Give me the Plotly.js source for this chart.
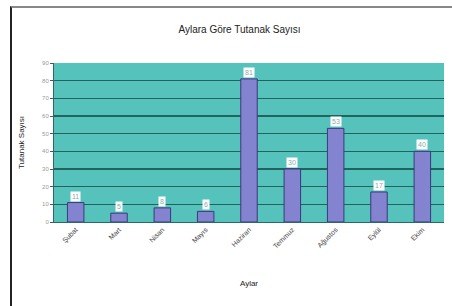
<!DOCTYPE html>
<html>
<head>
<meta charset="utf-8">
<script src="https://cdn.plot.ly/plotly-3.0.1.min.js"></script>
<style>
  html, body { margin: 0; padding: 0; background: #ffffff; }
  #wrap { position: relative; width: 452px; height: 306px; overflow: hidden; }
  #chart { position: absolute; left: 0; top: 0; width: 452px; height: 306px; }
  #frame { position: absolute; left: 10px; top: 6px; width: 460px; height: 320px;
           border-left: 2px solid #222; border-top: 2px solid #888; pointer-events: none; }
</style>
</head>
<body>
<div id="wrap">
  <div id="chart"></div>
  <div id="frame"></div>
</div>
<script>
const months = ["Şubat", "Mart", "Nisan", "Mayıs", "Haziran", "Temmuz", "Ağustos", "Eylül", "Ekim"];
const counts = [11, 5, 8, 6, 81, 30, 53, 17, 40];
const yTicks = [0, 10, 20, 30, 40, 50, 60, 70, 80, 90];

const trace = {
  type: "bar",
  x: months,
  y: counts,
  marker: { color: "#8383cf", line: { color: "#3a3a78", width: 1 } },
  hoverinfo: "skip"
};

const annotations = months.map((m, i) => ({
  x: m, y: counts[i], xref: "x", yref: "y",
  text: String(counts[i]),
  showarrow: false,
  yanchor: "bottom", yshift: 1,
  bgcolor: "#ffffff",
  borderpad: 1,
  font: { family: "Liberation Sans, Arial, sans-serif", size: 7, color: "#8aa" }
}));

const layout = {
  width: 452, height: 306,
  margin: { l: 54, r: 8, t: 63, b: 84 },
  paper_bgcolor: "#ffffff",
  plot_bgcolor: "#55c2bc",
  showlegend: false,
  bargap: 0.62,
  title: {
    text: "Aylara Göre Tutanak Sayısı",
    font: { family: "Liberation Sans, Arial, sans-serif", size: 10, color: "#222" },
    x: 0.53, xanchor: "center", y: 0.905, yanchor: "middle"
  },
  xaxis: {
    type: "category",
    tickangle: -45,
    tickfont: { family: "Liberation Sans, Arial, sans-serif", size: 7, color: "#444" },
    showgrid: false,
    showline: true, linecolor: "#2a6a66", linewidth: 1,
    ticks: "",
    title: { text: "Aylar", font: { family: "Liberation Sans, Arial, sans-serif", size: 8, color: "#222" }, standoff: 31 }
  },
  yaxis: {
    range: [0, 90],
    tickvals: yTicks,
    ticktext: yTicks.map(String),
    tickfont: { family: "Liberation Sans, Arial, sans-serif", size: 6, color: "#999" },
    showgrid: true, gridcolor: "#22625f", gridwidth: 1.5,
    zeroline: false,
    showline: true, linecolor: "#2a6a66", linewidth: 1,
    ticks: "outside", ticklen: 3, tickcolor: "#555",
    title: { text: "Tutanak Sayısı", font: { family: "Liberation Sans, Arial, sans-serif", size: 8, color: "#222" }, standoff: 16 }
  },
  annotations: annotations
};

Plotly.newPlot("chart", [trace], layout, { displayModeBar: false, staticPlot: true });
</script>
</body>
</html>
